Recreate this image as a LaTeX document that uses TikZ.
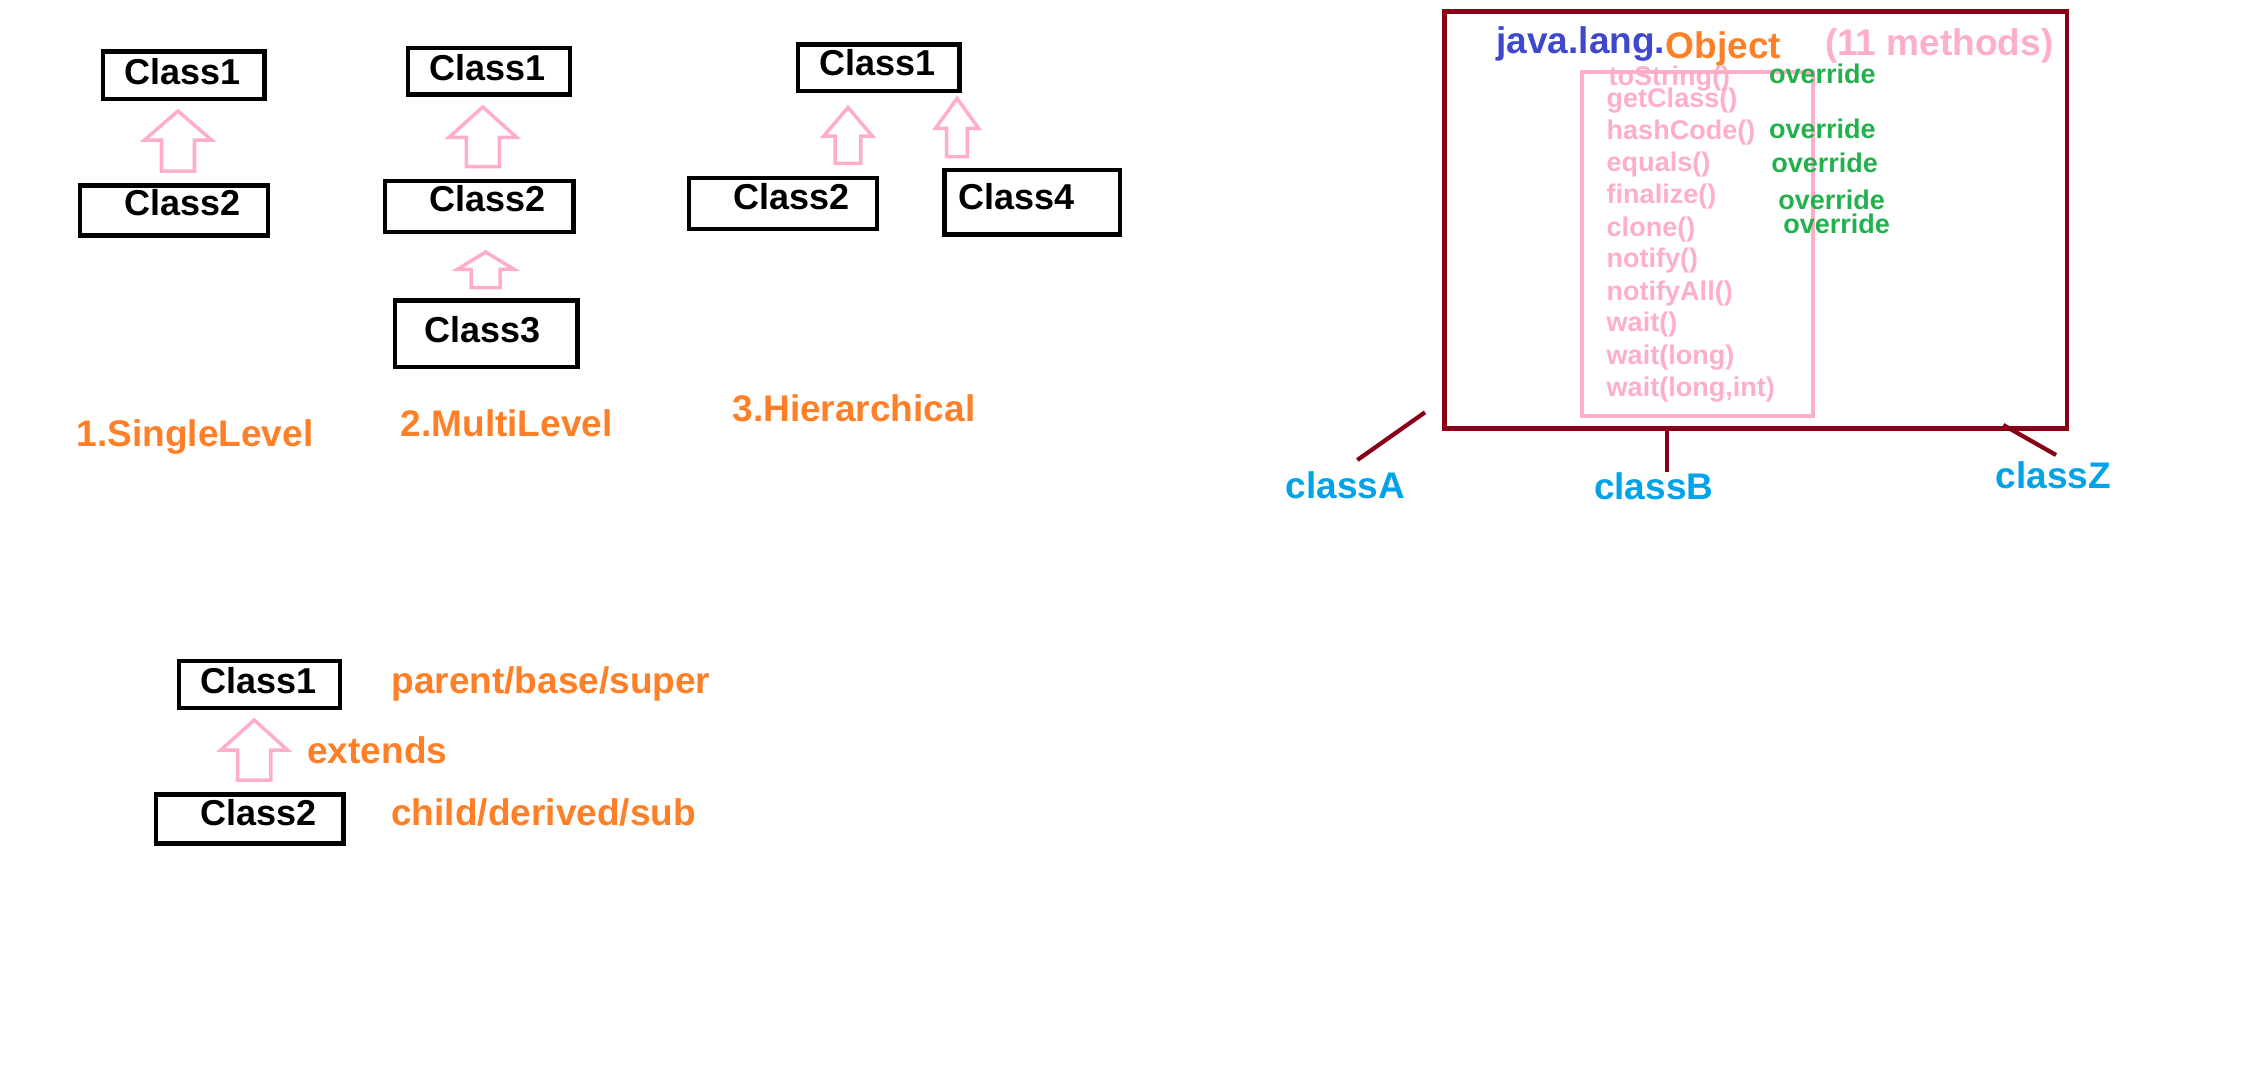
\documentclass[tikz,border=0pt]{standalone}
\usepackage{fontspec}
\setmainfont{Liberation Sans}
\usetikzlibrary{calc}
\definecolor{ored}{HTML}{FF7F27}
\definecolor{pinkc}{HTML}{FFAEC9}
\definecolor{dred}{HTML}{880015}
\definecolor{indig}{HTML}{3F48CC}
\definecolor{turq}{HTML}{00A2E8}
\definecolor{grn}{HTML}{22B14C}
\tikzset{
  classbox/.style={draw=black, line width=1.22pt, inner sep=0pt},
  classtxt/.style={anchor=base west, inner sep=0pt,
    font=\fontsize{10.24pt}{12pt}\selectfont\bfseries, text=black},
  lbl/.style={anchor=base west, inner sep=0pt,
    font=\fontsize{10.53pt}{12pt}\selectfont\bfseries},
  smalltxt/.style={anchor=base west, inner sep=0pt,
    font=\fontsize{7.68pt}{9pt}\selectfont\bfseries},
  inh/.style={draw=pinkc, line width=1pt, line join=miter},
  wire/.style={draw=dred, line width=1.2pt},
}
% box: name, x1, y1, x2, y2, text, text left x, text baseline y (px)
\newcommand\cbox[8]{\node[classbox, minimum width={(#4-#2-4.3)*0.01cm},
  minimum height={(#5-#3-4.3)*0.01cm}] (#1) at ({(#2+#4)/2},{(#3+#5)/2}) {};
  \node[classtxt] (#1-t) at (#7,#8) {#6};}
% hollow block arrow: tip x, tip y, head base y, bottom y, head half width, shaft half width
\newcommand\inharrow[6]{\draw[inh] (#1,#2) -- (#1+#5,#3) -- (#1+#6,#3) -- (#1+#6,#4)
  -- (#1-#6,#4) -- (#1-#6,#3) -- (#1-#5,#3) -- cycle;}
\begin{document}
\begin{tikzpicture}[x=0.01cm, y=-0.01cm]
\useasboundingbox (0,0) rectangle (2258,1090);
\fill[white] (0,0) rectangle (2258,1090);

% ---- 1. Single level
\cbox{sa}{100.7}{49.3}{266.7}{101}{Class1}{123.3}{84.3}
\cbox{sb}{77.7}{183.3}{270}{237.7}{Class2}{123.3}{215}
\inharrow{178}{111}{140}{171}{33.5}{16.5}
\node[lbl, text=ored] (t1) at (76,446.7) {1.SingleLevel};

% ---- 2. Multi level
\cbox{ma}{406}{45.7}{572}{96.7}{Class1}{428.3}{80}
\cbox{mb}{383}{179}{575.5}{234}{Class2}{428.3}{211.7}
\cbox{mc}{393}{298.3}{579.5}{369}{Class3}{423.3}{342.3}
\inharrow{482.8}{107}{137.3}{166.6}{33.8}{16.5}
\inharrow{485.7}{252}{269.3}{287.6}{28.3}{14.5}
\node[lbl, text=ored] (t2) at (400,436.7) {2.MultiLevel};

% ---- 3. Hierarchical
\cbox{ha}{796}{42.3}{961.7}{93.3}{Class1}{818.3}{75.7}
\cbox{hb}{686.7}{175.7}{879}{231}{Class2}{732.7}{209}
\cbox{hd}{942.3}{167.7}{1122.3}{236.7}{Class4}{957.7}{209}
\inharrow{848}{107.5}{136}{163.3}{24.3}{12.8}
\inharrow{957}{98.5}{128.3}{156.6}{21.6}{10.3}
\node[lbl, text=ored] (t3) at (731.7,421.7) {3.Hierarchical};

% ---- bottom: extends
\cbox{ba}{176.7}{659}{342.3}{710}{Class1}{200}{693.3}
\cbox{bb}{154}{792.3}{345.7}{845.7}{Class2}{200}{825}
\inharrow{254.2}{720}{750}{780}{33.3}{16.6}
\node[lbl, text=ored] (pb) at (390.7,693.3) {parent/base/super};
\node[lbl, text=ored] (ex) at (306.7,763.3) {extends};
\node[lbl, text=ored] (cd) at (390.7,825) {child/derived/sub};

% ---- java.lang.Object
\node[draw=dred, line width=1.28pt, inner sep=0pt, minimum width=6.225cm,
  minimum height=4.166cm] (obj) at (1755.75,220) {};
\node[draw=pinkc, line width=1.14pt, inner sep=0pt, minimum width=2.31cm,
  minimum height=3.44cm] (mlist) at (1697.8,244) {};
\node[lbl, text=indig] (jl) at (1495.7,53.3) {java.lang.};
\node[lbl, text=ored] (ob) at (1665,58.3) {Object};
\node[lbl, text=pinkc] (cnt) at (1824.3,55) {(11 methods)};

\node[smalltxt, text=pinkc] (m1) at (1608,85) {toString()};
\node[smalltxt, text=pinkc] (m2) at (1606,107.3) {getClass()};
\node[smalltxt, text=pinkc] (m3) at (1606,139.3) {hashCode()};
\node[smalltxt, text=pinkc] (m4) at (1606,171.7) {equals()};
\node[smalltxt, text=pinkc] (m5) at (1606,203.3) {finalize()};
\node[smalltxt, text=pinkc] (m6) at (1606,236) {clone()};
\node[smalltxt, text=pinkc] (m7) at (1606,267.7) {notify()};
\node[smalltxt, text=pinkc] (m8) at (1606,300) {notifyAll()};
\node[smalltxt, text=pinkc] (m9) at (1606,331.7) {wait()};
\node[smalltxt, text=pinkc] (m10) at (1606,364.3) {wait(long)};
\node[smalltxt, text=pinkc] (m11) at (1606,396) {wait(long,int)};

\node[smalltxt, text=grn] (o1) at (1768.3,83.3) {override};
\node[smalltxt, text=grn] (o2) at (1768.3,138.3) {override};
\node[smalltxt, text=grn] (o3) at (1770.7,172.7) {override};
\node[smalltxt, text=grn] (o4) at (1777.7,209) {override};
\node[smalltxt, text=grn] (o5) at (1782.7,233.3) {override};

\node[lbl, text=turq] (ca) at (1285,498.3) {classA};
\node[lbl, text=turq] (cb) at (1593.3,499) {classB};
\node[lbl, text=turq] (cz) at (1995,488.3) {classZ};

\coordinate (ca1) at (1357.3,460);
\coordinate (ca2) at (1425,412.3);
\coordinate (cb1) at (1667.3,471.7);
\coordinate (cb2) at (1667.3,428.3);
\coordinate (cz1) at (2056,455);
\coordinate (cz2) at (2003.3,425);
\draw[wire] (ca1) -- (ca2);
\draw[wire] (cb1) -- (cb2);
\draw[wire] (cz1) -- (cz2);
\end{tikzpicture}
\end{document}
